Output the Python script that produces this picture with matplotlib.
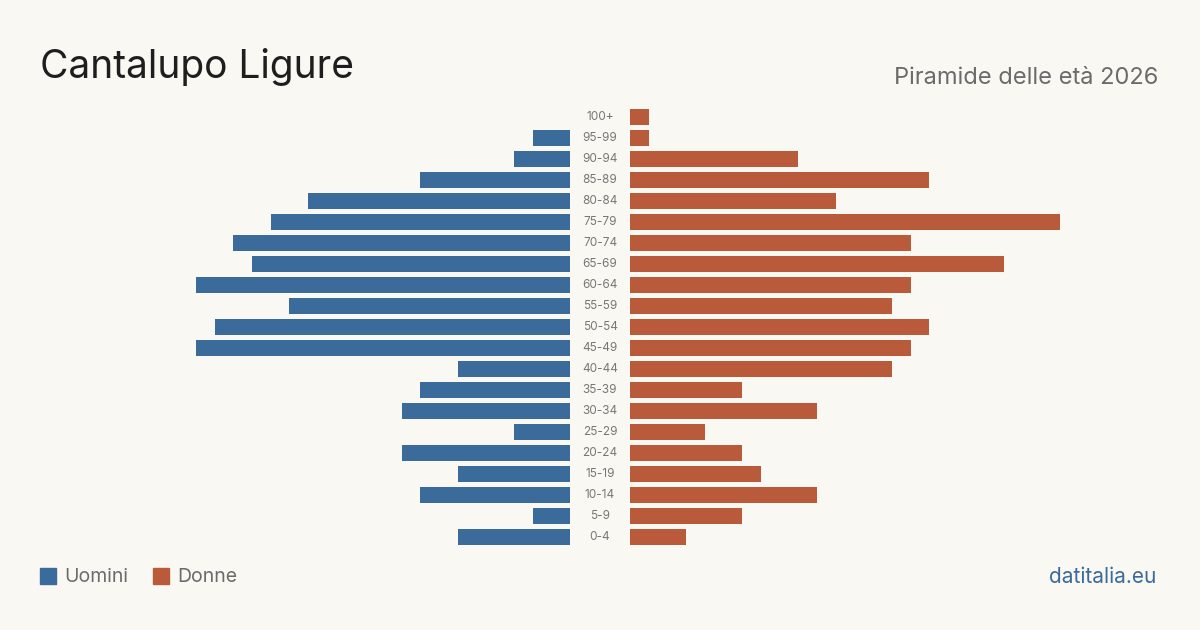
import matplotlib
matplotlib.use("Agg")
import matplotlib.pyplot as plt
from matplotlib.patches import Rectangle

age_groups = ["100+", "95-99", "90-94", "85-89", "80-84", "75-79", "70-74", "65-69",
              "60-64", "55-59", "50-54", "45-49", "40-44", "35-39", "30-34", "25-29",
              "20-24", "15-19", "10-14", "5-9", "0-4"]
men = [0, 2, 3, 8, 14, 16, 18, 17, 20, 15, 19, 20, 6, 8, 9, 3, 9, 6, 8, 2, 6]
women = [1, 1, 9, 16, 11, 23, 15, 20, 15, 14, 16, 15, 14, 6, 10, 4, 6, 7, 10, 6, 3]

title = "Cantalupo Ligure"
subtitle = "Piramide delle età 2026"
legend_labels = ["Uomini", "Donne"]
source = "datitalia.eu"

BG = "#f9f8f3"
C_MEN = "#3b6b9b"
C_WOMEN = "#b95b3b"
GRAY = "#6b6b6b"

plt.rcParams['font.family'] = ['Inter', 'DejaVu Sans']

W, H = 1200, 630
fig = plt.figure(figsize=(12, 6.3), dpi=100, facecolor=BG)

top_px, bot_px = 106.5, 547.5
ax_b = (H - bot_px) / H
ax_h = (bot_px - top_px) / H
lim = 530 / 18.7

axL = fig.add_axes([40 / W, ax_b, 530 / W, ax_h])
axR = fig.add_axes([630 / W, ax_b, 530 / W, ax_h])
n = len(age_groups)
ys = list(range(n))
for ax in (axL, axR):
    ax.set_facecolor(BG)
    ax.set_ylim(n - 0.5, -0.5)
    for s in ax.spines.values():
        s.set_visible(False)
    ax.set_xticks([])
    ax.set_yticks([])
axL.barh(ys, men, height=0.8, color=C_MEN)
axL.set_xlim(lim, 0)
axR.barh(ys, women, height=0.8, color=C_WOMEN)
axR.set_xlim(0, lim)

for y, lab in zip(ys, age_groups):
    axR.annotate(lab, xy=(0, y), xycoords='data', xytext=(-30, 0), textcoords='offset pixels',
                 ha='center', va='center', fontsize=8.5, color="#777777")

fig.text(40 / W, 1 - 67 / H, title, fontsize=28, color="#1e1e1e", ha='left', va='center')
fig.text(1158 / W, 1 - 78 / H, subtitle, fontsize=17, color=GRAY, ha='right', va='center')

# legend
fig.patches.append(Rectangle((40 / W, 1 - 584 / H), 16 / W, 16 / H, transform=fig.transFigure,
                             color=C_MEN))
fig.text(64 / W, 1 - 577 / H, legend_labels[0], fontsize=14, color=GRAY, ha='left', va='center')
fig.patches.append(Rectangle((153 / W, 1 - 584 / H), 16 / W, 16 / H, transform=fig.transFigure,
                             color=C_WOMEN))
fig.text(177 / W, 1 - 577 / H, legend_labels[1], fontsize=14, color=GRAY, ha='left', va='center')

fig.text(1156 / W, 1 - 577 / H, source, fontsize=15, color=C_MEN, ha='right', va='center')

fig.savefig("out.png", dpi=100, facecolor=BG)
